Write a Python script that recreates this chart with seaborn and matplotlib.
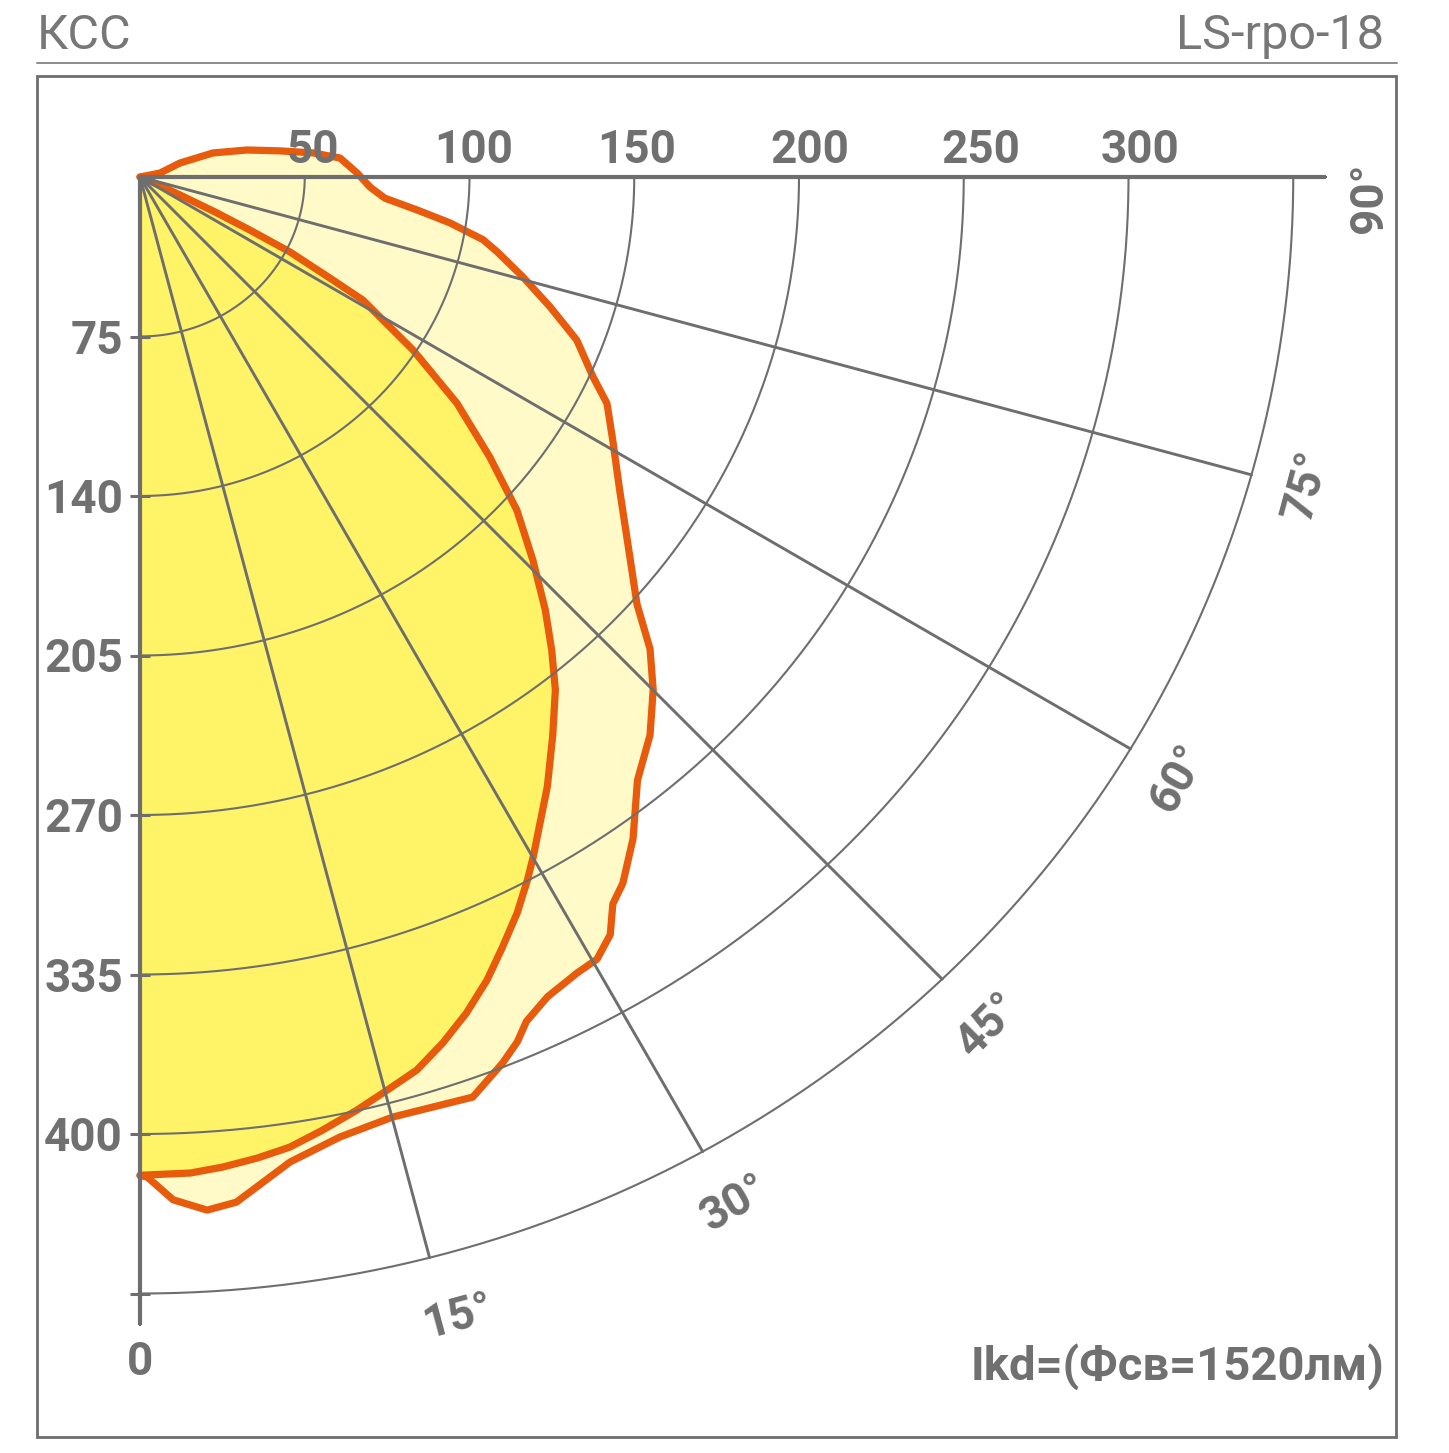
import numpy as np
import pandas as pd
import matplotlib
matplotlib.use("Agg")
import matplotlib.pyplot as plt
import seaborn as sns
from matplotlib.patches import Rectangle
from matplotlib.lines import Line2D

sns.set_theme(style="white")
plt.rcParams['font.family'] = ['Roboto', 'DejaVu Sans']

# ---------------- data ----------------
angles_deg = [15, 30, 45, 60, 75]
angle_labels = ["15°", "30°", "45°", "60°", "75°", "90°"]
ring_values = [50, 100, 150, 200, 250, 300, 350]
top_labels = ["50", "100", "150", "200", "250", "300"]
left_labels = ["75", "140", "205", "270", "335", "400"]

# outer curve (light fill): angle (deg) and intensity
outer_theta = [101.6, 101.6, 109.9, 108.8, 104.6, 100.9, 98.2, 95.6, 91.1, 87.4,
               84.9, 83.0, 81.3, 79.3, 77.8, 74.9, 71.9, 68.9, 65.5, 63.4,
               60.1, 56.0, 51.3, 48.4, 46.3, 44.1, 41.5, 38.6, 35.8, 33.5,
               32.2, 31.0, 29.5, 28.0, 25.7, 23.9, 22.9, 21.6, 19.3, 14.6,
               11.4, 8.4, 5.2, 3.6, 1.8, 0.4, 0.0]
outer_cd = [0, 6.2, 12.9, 23.4, 33.6, 43.3, 53.0, 61.0, 65.9, 69.9,
            74.6, 84.7, 95.2, 106.0, 110.9, 120.4, 130.9, 142.1, 151.1, 158.5,
            165.5, 175.6, 190.5, 201.7, 214.1, 223.8, 233.6, 242.0, 255.8, 265.5,
            269.3, 277.1, 281.7, 282.6, 285.2, 289.5, 294.3, 298.8, 305.6, 304.5,
            307.0, 312.1, 322.7, 324.5, 320.8, 313.5, 313.0]

# inner curve (yellow fill)
inner_theta = [67.6, 67.6, 65.1, 64.3, 63.5, 62.7, 61.2, 60.3, 56.8, 53.6,
               50.4, 47.6, 44.8, 42.2, 40.1, 38.1, 35.6, 32.9, 29.3, 28.1,
               26.4, 24.5, 22.7, 20.7, 18.7, 16.7, 14.7, 12.7, 10.5, 8.5,
               6.6, 4.6, 2.8, 0.2, 0.0]
inner_cd = [0, 3.3, 13.4, 25.3, 37.3, 51.2, 65.8, 77.9, 99.0, 119.5,
            137.8, 154.9, 169.2, 183.1, 194.0, 204.3, 215.2, 227.6, 244.0, 249.7,
            257.5, 265.3, 272.9, 280.2, 286.6, 292.3, 295.9, 299.8, 303.9, 307.5,
            309.6, 311.4, 312.6, 312.9, 313.0]

title_left = "КСС"
title_right = "LS-rpo-18"
footer = "Ikd=(Фсв=1520лм)"

# ---------------- layout / style ----------------
W, H = 1449, 1453
GRAY = "#6e6e6e"
TXT = "#707070"
ORANGE = "#e85a0c"
LIGHT = "#fffac8"
YELLOW = "#fff368"
RMAX = 360
SX, SY = 3.295, 3.19          # px per unit horizontally / vertically
label_theta = [15.1, 29.3, 44.1, 59.1, 74.7, 89.0]
label_r = [370, 369, 370, 367, 367, 373]
label_rot = [15, 30, 45, 60, 75, 90]
top_dx = [8, 4, 2, 11, 17, 11]

fig = plt.figure(figsize=(W / 100, H / 100), dpi=100)
fig.patch.set_facecolor("white")

ox, oy = 140, 177
px_w = RMAX * SX
px_h = RMAX * SY
ax = fig.add_axes([ox / W, 1 - (oy + px_h) / H, px_w / W, px_h / H], projection="polar")
ax.set_theta_zero_location("S")
ax.set_theta_direction(1)
ax.set_thetamin(0)
ax.set_thetamax(90)
ax.set_ylim(0, RMAX)
ax.set_aspect("auto")
ax.grid(False)
ax.set_xticks([])
ax.set_yticks([])
for s in ax.spines.values():
    s.set_visible(False)
ax.patch.set_visible(False)

ot = np.deg2rad(outer_theta)
it = np.deg2rad(inner_theta)

ax.fill(ot, outer_cd, color=LIGHT, zorder=1, clip_on=False, lw=0)
ax.fill(it, inner_cd, color=YELLOW, zorder=2, clip_on=False, lw=0)

df_out = pd.DataFrame({"theta": ot, "cd": outer_cd})
df_in = pd.DataFrame({"theta": it, "cd": inner_cd})
for d in (df_out, df_in):
    sns.lineplot(data=d, x="theta", y="cd", sort=False, estimator=None, ax=ax,
                 color=ORANGE, lw=5.2, clip_on=False, zorder=3,
                 solid_joinstyle="round", solid_capstyle="round")
ax.set_xlabel("")
ax.set_ylabel("")


def screen_angle(a_deg):
    a = np.deg2rad(a_deg)
    return np.arctan2(np.sin(a) * SY, np.cos(a) * SX)


# grid arcs
arc_t = np.linspace(0, np.pi / 2, 300)
for rv in ring_values:
    ax.plot(arc_t, np.full_like(arc_t, rv), color=GRAY, lw=1.5, zorder=4, clip_on=False)
# radial lines (true screen angles)
for a in angles_deg:
    ax.plot([screen_angle(a)] * 2, [0, ring_values[-1]], color=GRAY, lw=2.1, zorder=4,
            clip_on=False)
# main axes lines
ax.plot([0, 0], [0, RMAX], color=GRAY, lw=3.0, zorder=5, clip_on=False, solid_capstyle="butt")
ax.plot([np.pi / 2] * 2, [0, RMAX], color=GRAY, lw=3.0, zorder=5, clip_on=False,
        solid_capstyle="butt")
# ticks on vertical axis
ax.plot([0] * len(ring_values), ring_values, ls="none", marker="_", markersize=15,
        mew=2.2, color=GRAY, zorder=5, clip_on=False)

NUMFS = 33
FW = "bold"
for rv, lab in zip(ring_values, left_labels):
    ax.annotate(lab, xy=(0, rv), xytext=(-17, -17), textcoords="offset pixels",
                ha="right", va="baseline", fontsize=NUMFS, fontweight=FW,
                color=TXT, annotation_clip=False)
for rv, lab, dx in zip(ring_values, top_labels, top_dx):
    ax.annotate(lab, xy=(np.pi / 2, rv), xytext=(dx, 14), textcoords="offset pixels",
                ha="center", va="baseline", fontsize=NUMFS, fontweight=FW,
                color=TXT, annotation_clip=False)
ax.annotate("0", xy=(0, RMAX), xytext=(0, -50), textcoords="offset pixels",
            ha="center", va="baseline", fontsize=NUMFS, fontweight=FW,
            color=TXT, annotation_clip=False)
for th, rr, rot, lab in zip(label_theta, label_r, label_rot, angle_labels):
    ax.text(np.deg2rad(th), rr, lab, rotation=rot, ha="center", va="center",
            fontsize=NUMFS, fontweight=FW, color=TXT, clip_on=False,
            rotation_mode="anchor")

# frame and header
fig.add_artist(Rectangle((37 / W, 1 - 1437 / H), (1396 - 37) / W, (1437 - 76) / H,
                         transform=fig.transFigure, fill=False, ec=GRAY, lw=2.0))
fig.add_artist(Line2D([37 / W, 1397 / W], [1 - 63 / H] * 2, transform=fig.transFigure,
                      color="#8c8c8c", lw=1.4))
fig.text(37 / W, 1 - 49 / H, title_left, ha="left", va="baseline", fontsize=35,
         color="#777777")
fig.text(1384 / W, 1 - 49 / H, title_right, ha="right", va="baseline", fontsize=35,
         color="#777777")
fig.text(1385 / W, 1 - 1380 / H, footer, ha="right", va="baseline", fontsize=34,
         fontweight="bold", color=TXT)

fig.savefig("out.png", dpi=100, facecolor="white")
